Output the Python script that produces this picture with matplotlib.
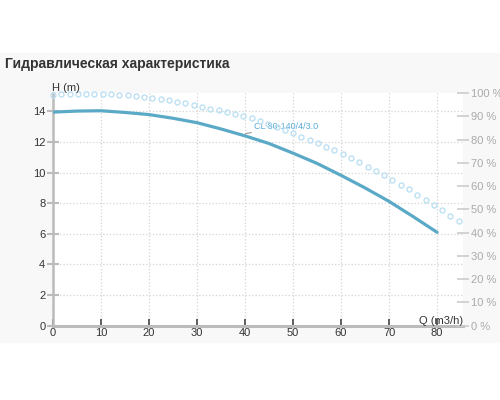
import matplotlib
matplotlib.use('Agg')
import matplotlib.pyplot as plt
import numpy as np

plt.rcParams['font.family'] = ['Liberation Sans', 'DejaVu Sans']

# pump head curve H(Q)
q_head = [0, 5, 10, 15, 20, 25, 30, 35, 40, 45, 50, 55, 60, 65, 70, 75, 80]
h_head = [13.95, 14.02, 14.04, 13.93, 13.79, 13.55, 13.26, 12.85, 12.40,
          11.90, 11.27, 10.60, 9.82, 9.00, 8.12, 7.13, 6.10]

# efficiency curve (%), 50 evenly spaced markers from Q=0 to Q=84.5
eff_q = np.linspace(0, 84.5, 50)
eff = [99.3, 99.5, 99.6, 99.6, 99.6, 99.6, 99.6, 99.6, 99.3, 99.0,
       98.9, 98.4, 97.8, 97.4, 97.0, 96.2, 95.6, 94.8, 94.1, 93.2,
       92.7, 91.8, 91.1, 90.1, 89.1, 87.8, 86.6, 85.3, 84.1, 82.8,
       81.2, 80.0, 78.6, 77.0, 75.4, 73.8, 72.0, 70.3, 68.4, 66.5,
       64.7, 62.6, 60.5, 58.6, 56.3, 54.2, 51.9, 49.7, 47.3, 45.0]

x_ticks = [0, 10, 20, 30, 40, 50, 60, 70, 80]
h_ticks = [0, 2, 4, 6, 8, 10, 12, 14]
pct_ticks = [0, 10, 20, 30, 40, 50, 60, 70, 80, 90, 100]
pct_labels = [str(p) + ' %' for p in pct_ticks]

curve_name = 'CL 80-140/4/3.0'
title = 'Гидравлическая характеристика'

fig = plt.figure(figsize=(5, 4), dpi=100)
fig.patch.set_facecolor('white')
# light grey chart background band
fig.patches.append(plt.Rectangle((0, 1 - 342 / 400), 1, (342 - 53) / 400,
                                 transform=fig.transFigure, color='#f8f8f8', zorder=-5))

ax = fig.add_axes([53 / 500, 1 - 325.7 / 400, 410 / 500, 232.7 / 400])
ax.set_facecolor('white')
ax.set_xlim(0, 85.4)
ax.set_ylim(0, 15.2)

ax.grid(True, color='#d4d4d4', linestyle=':', linewidth=0.9)
ax.set_xticks(x_ticks)
ax.set_yticks(h_ticks)

for s in ['top', 'right']:
    ax.spines[s].set_visible(False)
ax.spines['left'].set_color('#bbbbbb')
ax.spines['left'].set_linewidth(1.8)
ax.spines['bottom'].set_color('#bbbbbb')
ax.spines['bottom'].set_linewidth(2.2)

ax.tick_params(axis='y', direction='inout', length=9, width=1.5, color='#bbbbbb',
               labelsize=8, labelcolor='#333333', pad=1)
ax.tick_params(axis='x', direction='in', length=5, width=1.2, color='#444444',
               labelsize=8, labelcolor='#333333', pad=2)

ax.plot(q_head, h_head, color='#5aa9c6', linewidth=2.3, solid_capstyle='round', zorder=3)

ax.annotate(curve_name, xy=(40.1, 12.55), xytext=(41.9, 13.0),
            color='#5aaad8', fontsize=6.5, va='center', ha='left',
            arrowprops=dict(arrowstyle='-', color='#999999', lw=0.8,
                            shrinkA=0, shrinkB=0))

ax2 = ax.twinx()
ax2.set_ylim(0, 100)
ax2.set_yticks(pct_ticks)
ax2.set_yticklabels(pct_labels)
for s in ['top', 'right', 'left', 'bottom']:
    ax2.spines[s].set_visible(False)
ax2.tick_params(axis='y', direction='inout', length=9, width=1.2, color='#cccccc',
                labelsize=8, labelcolor='#aaaaaa', pad=1)
ax2.plot(eff_q, eff, linestyle='none', marker='o', markersize=3.6, markerfacecolor='none',
         markeredgecolor='#bde0f3', markeredgewidth=1.0, clip_on=False, zorder=2)

fig.text(52 / 500, 1 - 88 / 400, 'H (m)', fontsize=8, color='#333333', va='center', ha='left')
fig.text(463 / 500, 1 - 320.5 / 400, 'Q (m3/h)', fontsize=8, color='#333333', va='center', ha='right')
fig.text(5 / 500, 1 - 64 / 400, title, fontsize=10, fontweight='bold', color='#333333',
         va='center', ha='left')

fig.savefig('out.png', dpi=100)
